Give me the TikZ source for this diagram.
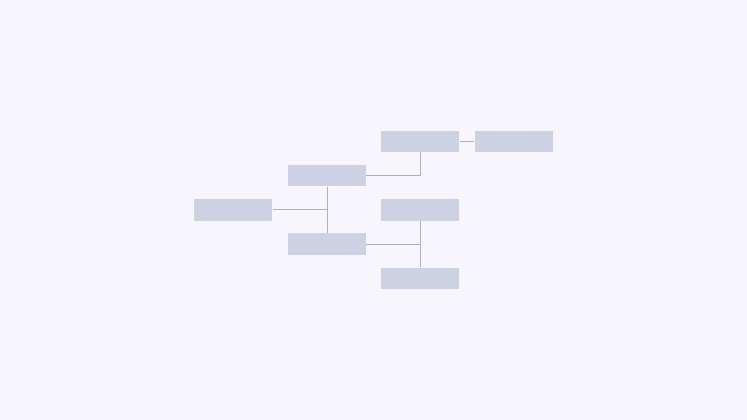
\documentclass[tikz,border=0pt]{standalone}
\definecolor{bgc}{HTML}{F7F6FC}
\definecolor{boxc}{HTML}{CDD1E4}
\definecolor{linec}{HTML}{ABAFC6}
\tikzset{
  topic/.style={fill=boxc, draw=none, minimum width=78pt, minimum height=21.5pt, inner sep=0pt},
  link/.style={draw=linec, line width=0.9pt}
}
\begin{document}
\begin{tikzpicture}[x=1pt,y=-1pt]
\fill[bgc] (0,0) rectangle (747,420);
\useasboundingbox (0,0) rectangle (747,420);
\node[topic] (A) at (420.3,141.3) {};
\node[topic] (B) at (513.5,141.3) {};
\node[topic] (C) at (327,175.7) {};
\node[topic] (D) at (233.3,209.8) {};
\node[topic] (E) at (420.3,209.8) {};
\node[topic] (F) at (327,244) {};
\node[topic] (G) at (420.3,278.3) {};
\coordinate (J1) at (C.center |- D.center);
\coordinate (J2) at (E.center |- F.center);
\draw[link] (D.east) -- (J1);
\draw[link] (C.south) -- (F.north);
\draw[link] (C.east) -| (A.south);
\draw[link] (A.east) -- (B.west);
\draw[link] (F.east) -- (J2);
\draw[link] (E.south) -- (G.north);
\end{tikzpicture}
\end{document}
